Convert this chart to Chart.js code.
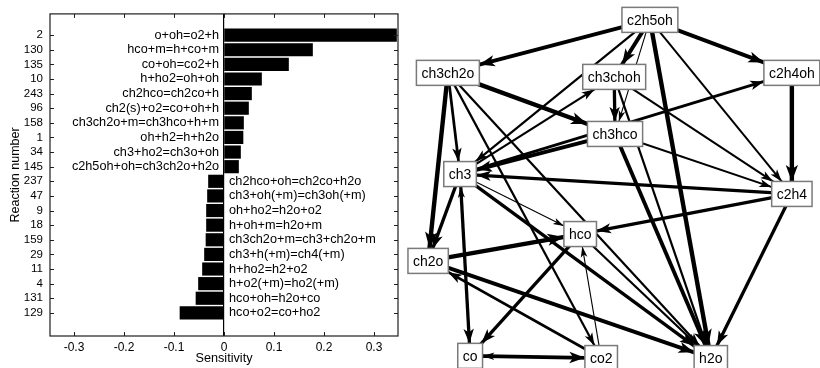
<!DOCTYPE html>
<html>
<head>
<meta charset="utf-8">
<script src="https://cdn.jsdelivr.net/npm/chart.js@4/dist/chart.umd.min.js"></script>
<style>
  html, body { margin: 0; padding: 0; background: #fff; }
  #wrap { position: relative; width: 820px; height: 368px; overflow: hidden; }
  #left { position: absolute; left: 0; top: 0; width: 400px; height: 368px; }
  #right { position: absolute; left: 400px; top: 0; width: 420px; height: 368px; }
</style>
</head>
<body>
<div id="wrap">
  <div id="left"><canvas id="c1"></canvas></div>
  <div id="right"><canvas id="c2"></canvas></div>
</div>
<script>
// ---------------- Data: sensitivity bar chart ----------------
const reactionNumbers = ['2','130','135','10','243','96','158','1','34','145',
                         '237','47','9','18','159','29','11','4','131','129'];
const reactionLabels = ['o+oh=o2+h','hco+m=h+co+m','co+oh=co2+h','h+ho2=oh+oh',
  'ch2hco=ch2co+h','ch2(s)+o2=co+oh+h','ch3ch2o+m=ch3hco+h+m','oh+h2=h+h2o',
  'ch3+ho2=ch3o+oh','c2h5oh+oh=ch3ch2o+h2o','ch2hco+oh=ch2co+h2o',
  'ch3+oh(+m)=ch3oh(+m)','oh+ho2=h2o+o2','h+oh+m=h2o+m','ch3ch2o+m=ch3+ch2o+m',
  'ch3+h(+m)=ch4(+m)','h+ho2=h2+o2','h+o2(+m)=ho2(+m)','hco+oh=h2o+co','hco+o2=co+ho2'];
const sensitivity = [0.345, 0.177, 0.129, 0.075, 0.055, 0.049, 0.039, 0.038, 0.033, 0.029,
                     -0.031, -0.033, -0.035, -0.035, -0.036, -0.039, -0.043, -0.051, -0.056, -0.088];
const sensTicks = [-0.3, -0.2, -0.1, 0, 0.1, 0.2, 0.3];

// ---------------- Data: reaction-flux network ----------------
const nodeNames = ['c2h5oh','ch3ch2o','ch3choh','c2h4oh','ch3hco','ch3','c2h4','hco','ch2o','co','co2','h2o'];
const nodeX = [59.5, 11.4, 51.0, 93.3, 51.2, 14.3, 93.3, 42.9, 6.7, 16.7, 47.9, 74.0];
const nodeY = [5.4, 19.8, 20.9, 19.8, 36.4, 47.3, 52.7, 63.6, 70.9, 96.7, 97.3, 97.3];
const edgeFrom = ['c2h5oh','c2h5oh','c2h5oh','c2h5oh','c2h5oh','c2h5oh','c2h5oh',
  'ch3ch2o','ch3ch2o','ch3ch2o','ch3ch2o','ch3ch2o',
  'ch3choh','ch3choh','ch3choh',
  'ch3hco','ch3','ch3hco','ch3hco',
  'ch3','ch3','ch3','ch3','co','ch3',
  'c2h4oh','c2h4','c2h4','c2h4',
  'ch2o','ch2o','co2','hco','hco','co2','co','co2'];
const edgeTo = ['ch3ch2o','c2h4oh','ch3choh','ch3hco','ch3','h2o','c2h4',
  'ch3hco','ch3','ch2o','co2','h2o',
  'ch3hco','c2h4','h2o',
  'ch3','c2h4oh','c2h4','h2o',
  'ch3choh','ch2o','hco','co','ch3','h2o',
  'c2h4','ch3','hco','h2o',
  'hco','h2o','ch2o','co','h2o','hco','co2','co'];
const edgeFlux = [3.5, 3.5, 3.5, 1, 2, 4, 1.8,
  4, 2.5, 4, 2, 2,
  3, 1.8, 2,
  3.5, 2.5, 1.8, 3.5,
  2, 3, 1, 3, 1.2, 3,
  4, 3, 3, 3,
  4, 3.5, 2.5, 3, 2, 1, 3.5, 1.5];

const FONT = '"Liberation Sans", Arial, Helvetica, sans-serif';
Chart.defaults.font.family = FONT;
Chart.defaults.color = '#000';
Chart.defaults.animation = false;

// ---------------- Left chart ----------------
const barLabelPlugin = {
  id: 'barLabels',
  afterDatasetsDraw(chart) {
    const { ctx, scales: { x, y } } = chart;
    const x0 = x.getPixelForValue(0);
    ctx.save();
    ctx.font = '12.7px ' + FONT;
    ctx.fillStyle = '#000';
    ctx.textBaseline = 'middle';
    sensitivity.forEach((v, i) => {
      const py = y.getPixelForValue(i + 1);
      if (v >= 0) { ctx.textAlign = 'right'; ctx.fillText(reactionLabels[i], x0 - 5, py); }
      else { ctx.textAlign = 'left'; ctx.fillText(reactionLabels[i], x0 + 5, py); }
    });
    ctx.restore();
  }
};
const framePlugin = {
  id: 'frame',
  afterDraw(chart) {
    const { ctx, chartArea: a, scales: { x, y } } = chart;
    ctx.save();
    ctx.strokeStyle = '#1e1e1e';
    ctx.lineWidth = 1.2;
    ctx.strokeRect(a.left, a.top, a.right - a.left, a.bottom - a.top);
    ctx.lineWidth = 1;
    ctx.beginPath();
    x.ticks.forEach(t => {
      const px = Math.round(x.getPixelForValue(t.value)) + 0.5;
      ctx.moveTo(px, a.top); ctx.lineTo(px, a.top + 4);
      ctx.moveTo(px, a.bottom); ctx.lineTo(px, a.bottom - 4);
    });
    y.ticks.forEach(t => {
      const py = Math.round(y.getPixelForValue(t.value)) + 0.5;
      ctx.moveTo(a.left, py); ctx.lineTo(a.left + 4, py);
      ctx.moveTo(a.right, py); ctx.lineTo(a.right - 4, py);
    });
    ctx.stroke();
    ctx.restore();
  }
};

new Chart(document.getElementById('c1'), {
  type: 'bar',
  data: {
    datasets: [{
      data: sensitivity.map((v, i) => ({ x: v, y: i + 1 })),
      backgroundColor: '#000',
      borderWidth: 0,
      barThickness: 12.5
    }]
  },
  options: {
    indexAxis: 'y',
    responsive: true,
    maintainAspectRatio: false,
    layout: { padding: { top: 10, right: 2, left: 0, bottom: 0 } },
    plugins: { legend: { display: false }, tooltip: { enabled: false } },
    scales: {
      x: {
        type: 'linear', min: -0.348, max: 0.348,
        afterBuildTicks: s => { s.ticks = sensTicks.map(v => ({ value: v })); },
        afterFit: s => { s.height = 32; },
        ticks: {
          font: { size: 12 }, color: '#000', padding: 4, maxRotation: 0, autoSkip: false,
          callback: v => (Math.abs(v) < 1e-9 ? '0' : v.toFixed(1))
        },
        grid: {
          drawTicks: false,
          color: c => (c.tick && Math.abs(c.tick.value) < 1e-9 ? '#000' : 'rgba(0,0,0,0)'),
          lineWidth: 1.2
        },
        border: { display: false },
        title: { display: true, text: 'Sensitivity', font: { size: 12.7 }, color: '#000', padding: { top: 0, bottom: 2 } }
      },
      y: {
        type: 'linear', min: 0.101, max: 21.03, reverse: true,
        afterBuildTicks: s => { s.ticks = reactionNumbers.map((_, i) => ({ value: i + 1 })); },
        afterFit: s => { s.width = 50; },
        ticks: {
          font: { size: 11.5 }, color: '#000', padding: 7, autoSkip: false,
          callback: v => reactionNumbers[Math.round(v) - 1]
        },
        grid: { display: false, drawTicks: false },
        border: { display: false },
        title: { display: true, text: 'Reaction number', font: { size: 12.5 }, color: '#000', padding: { top: 8, bottom: 0 } }
      }
    }
  },
  plugins: [barLabelPlugin, framePlugin]
});

// ---------------- Right chart (network) ----------------
const idx = name => nodeNames.indexOf(name);
const NODE_FONT = '14px ' + FONT;
const BOX_H = 25;
const lineW = f => f * 1.1;

function boxHalf(ctx, name) {
  ctx.font = NODE_FONT;
  return { hw: (ctx.measureText(name).width + 10) / 2, hh: BOX_H / 2 };
}

const networkPlugin = {
  id: 'network',
  afterDatasetsDraw(chart) {
    const { ctx, scales: { x, y } } = chart;
    const px = i => x.getPixelForValue(nodeX[i]);
    const py = i => y.getPixelForValue(nodeY[i]);
    ctx.save();
    // arrowheads
    edgeFrom.forEach((f, k) => {
      const a = idx(f), b = idx(edgeTo[k]);
      const x1 = px(a), y1 = py(a), x2 = px(b), y2 = py(b);
      const dx = x2 - x1, dy = y2 - y1, L = Math.hypot(dx, dy);
      const ux = dx / L, uy = dy / L;
      const { hw, hh } = boxHalf(ctx, edgeTo[k]);
      const s = Math.min(Math.abs(ux) > 1e-6 ? hw / Math.abs(ux) : 1e9, Math.abs(uy) > 1e-6 ? hh / Math.abs(uy) : 1e9);
      const tx = x2 - ux * s, ty = y2 - uy * s;
      const w = lineW(edgeFlux[k]);
      const len = 9 + 1.7 * w, half = 2.4 + 0.85 * w;
      const bx = tx - ux * len, by = ty - uy * len;
      ctx.beginPath();
      ctx.moveTo(tx, ty);
      ctx.lineTo(bx - uy * half, by + ux * half);
      ctx.lineTo(bx + ux * len * 0.25, by + uy * len * 0.25);
      ctx.lineTo(bx + uy * half, by - ux * half);
      ctx.closePath();
      ctx.fillStyle = '#000';
      ctx.fill();
    });
    // node boxes
    nodeNames.forEach((n, i) => {
      const { hw, hh } = boxHalf(ctx, n);
      const cx = px(i), cy = py(i);
      ctx.fillStyle = '#fff';
      ctx.fillRect(cx - hw, cy - hh, hw * 2, hh * 2);
      ctx.strokeStyle = '#7a7a7a';
      ctx.lineWidth = 1.5;
      ctx.strokeRect(cx - hw, cy - hh, hw * 2, hh * 2);
      ctx.fillStyle = '#000';
      ctx.font = NODE_FONT;
      ctx.textAlign = 'center';
      ctx.textBaseline = 'middle';
      ctx.fillText(n, cx, cy + 1);
    });
    ctx.restore();
  }
};

new Chart(document.getElementById('c2'), {
  type: 'scatter',
  data: {
    datasets: edgeFrom.map((f, k) => {
      const a = idx(f), b = idx(edgeTo[k]);
      return {
        data: [{ x: nodeX[a], y: nodeY[a] }, { x: nodeX[b], y: nodeY[b] }],
        showLine: true,
        borderColor: '#000',
        borderWidth: lineW(edgeFlux[k]),
        pointRadius: 0,
        fill: false,
        clip: false
      };
    })
  },
  options: {
    responsive: true,
    maintainAspectRatio: false,
    layout: { padding: 0 },
    plugins: { legend: { display: false }, tooltip: { enabled: false } },
    scales: {
      x: { type: 'linear', min: 0, max: 100, display: false },
      y: { type: 'linear', min: 0, max: 100, reverse: true, display: false }
    }
  },
  plugins: [networkPlugin]
});
</script>
</body>
</html>
